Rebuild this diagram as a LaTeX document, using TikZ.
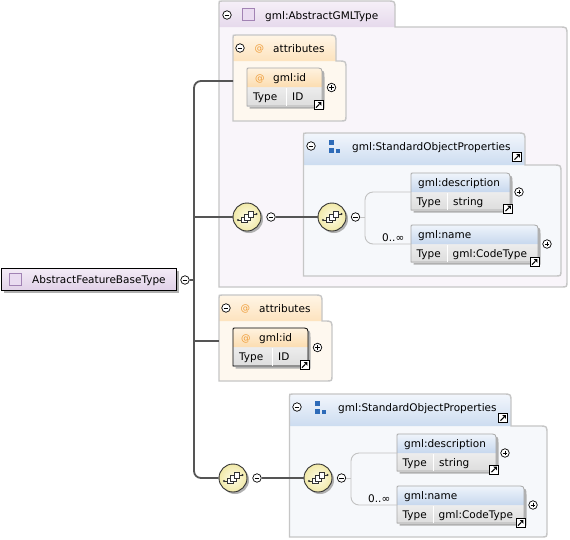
\documentclass[tikz,border=0pt]{standalone}
\usepackage{fontspec}
\setmainfont{DejaVu Sans}
\usetikzlibrary{calc}
\definecolor{panelborder}{HTML}{C6C6C6}
\definecolor{elemborder}{HTML}{A8A8A8}
\definecolor{conn}{HTML}{555555}
\definecolor{brk}{HTML}{C2C2C2}
\definecolor{purTop}{HTML}{F6F0F8}
\definecolor{purBot}{HTML}{E6D9EC}
\definecolor{purBody}{HTML}{F9F5FA}
\definecolor{rootTop}{HTML}{F3EBF6}
\definecolor{rootBot}{HTML}{E1D1E8}
\definecolor{orpTop}{HTML}{FFF5E6}
\definecolor{orpBot}{HTML}{FDE3BE}
\definecolor{orpBody}{HTML}{FEF8EF}
\definecolor{orTop}{HTML}{FEF2E0}
\definecolor{orBot}{HTML}{FCDDB0}
\definecolor{blpTop}{HTML}{F2F6FC}
\definecolor{blpBot}{HTML}{CCDCF0}
\definecolor{blpBody}{HTML}{F6F8FB}
\definecolor{blTop}{HTML}{EFF4FB}
\definecolor{blBot}{HTML}{C7D8EE}
\definecolor{rowTop}{HTML}{EDEDED}
\definecolor{rowBot}{HTML}{DDDDDD}
\definecolor{shadowgray}{HTML}{B0B0B0}
\definecolor{seqIn}{HTML}{FEFCE8}
\definecolor{seqOut}{HTML}{F1E9A8}
\definecolor{atcol}{HTML}{EE9C38}
\definecolor{iconpur}{HTML}{EADCF1}
\definecolor{iconpurdraw}{HTML}{A283B4}
\definecolor{iconblue}{HTML}{2E6BB8}
\definecolor{icondark}{HTML}{333333}
\tikzset{
  txt/.style={inner sep=0pt, anchor=base west, font=\fontsize{10.5}{12.6}\selectfont},
  attxt/.style={txt, text=atcol, font=\fontsize{9.5}{11}\selectfont},
  areabox/.style={rectangle, inner sep=0pt, draw=none, fill=none},
  panelline/.style={draw=panelborder, line width=1.4pt},
  conline/.style={draw=conn, line width=1.8pt},
  brline/.style={draw=brk, line width=0.9pt},
  togglebox/.style={circle, draw=black, fill=white, line width=0.7pt, minimum size=8.5pt, inner sep=0pt},
  linkbox/.style={rectangle, draw=black, fill=white, line width=0.9pt, minimum size=9pt, inner sep=0pt},
  seqcirc/.style={circle, draw=icondark, line width=0.9pt, inner color=seqIn, outer color=seqOut, minimum size=28pt, inner sep=0pt},
  typeicon/.style={rectangle, draw=iconpurdraw, fill=iconpur, line width=0.8pt, minimum size=12pt, inner sep=0pt},
  rootbox/.style={rectangle, draw=black, line width=0.9pt, top color=rootTop, bottom color=rootBot, minimum width=175pt, minimum height=22pt, inner sep=0pt, anchor=north west},
}
% panel: name, L, T, tab right, tab bottom, body right, body bottom, colour base
\newcommand\XPanel[8]{%
  \path[fill=#8Body] (#2,#7) -- (#2,{#3+3}) .. controls (#2,#3) .. ({#2+3},#3) -- ({#4-8},#3) .. controls (#4,#3) .. (#4,{#3+8}) -- (#4,#5) -- ({#6-8},#5) .. controls (#6,#5) .. (#6,{#5+8}) -- (#6,{#7-6}) .. controls (#6,#7) .. ({#6-6},#7) -- cycle;
  \path[top color=#8Top, bottom color=#8Bot] (#2,#5) -- (#2,{#3+3}) .. controls (#2,#3) .. ({#2+3},#3) -- ({#4-8},#3) .. controls (#4,#3) .. (#4,{#3+8}) -- (#4,#5) -- cycle;
  \path[panelline] (#2,#7) -- (#2,{#3+3}) .. controls (#2,#3) .. ({#2+3},#3) -- ({#4-8},#3) .. controls (#4,#3) .. (#4,{#3+8}) -- (#4,#5) -- ({#6-8},#5) .. controls (#6,#5) .. (#6,{#5+8}) -- (#6,{#7-6}) .. controls (#6,#7) .. ({#6-6},#7) -- cycle;
  \node[areabox, anchor=north west, minimum width={(#6-#2)*1pt}, minimum height={(#7-#3)*1pt}] (#1) at (#2,#3) {};
}
% element: name, L, T, R, header bottom, B, header colour base, border colour
\newcommand\XElem[8]{%
  \path[fill=shadowgray] ({#2+2.5},{#6+2.5}) -- ({#2+2.5},{#3+2.5}) -- ({#4-4.5},{#3+2.5}) .. controls ({#4+2.5},{#3+2.5}) .. ({#4+2.5},{#3+9.5}) -- ({#4+2.5},{#6+2.5}) -- cycle;
  \path[top color=rowTop, bottom color=rowBot] (#2,#5) rectangle (#4,#6);
  \path[top color=#7Top, bottom color=#7Bot] (#2,#5) -- (#2,{#3+2}) .. controls (#2,#3) .. ({#2+2},#3) -- ({#4-7},#3) .. controls (#4,#3) .. (#4,{#3+7}) -- (#4,#5) -- cycle;
  \path[draw=#8, line width=0.8pt] (#2,#6) -- (#2,{#3+2}) .. controls (#2,#3) .. ({#2+2},#3) -- ({#4-7},#3) .. controls (#4,#3) .. (#4,{#3+7}) -- (#4,#6) -- cycle;
  \node[areabox, anchor=north west, minimum width={(#4-#2)*1pt}, minimum height={(#6-#3)*1pt}] (#1) at (#2,#3) {};
  \coordinate (#1-hw) at (#2,#5);
}
\newcommand\XTogMinus[2]{%
  \node[togglebox] (#1) at (#2) {};
  \draw[line width=0.7pt] ($(#1.center)+(-2.4,0)$) -- ($(#1.center)+(2.4,0)$);
}
\newcommand\XTogPlus[2]{%
  \node[togglebox] (#1) at (#2) {};
  \draw[line width=0.7pt] ($(#1.center)+(-2.4,0)$) -- ($(#1.center)+(2.4,0)$);
  \draw[line width=0.7pt] ($(#1.center)+(0,-2.4)$) -- ($(#1.center)+(0,2.4)$);
}
\newcommand\XLink[2]{%
  \node[linkbox, anchor=south east] (#1) at (#2) {};
  \draw[line width=1.1pt] ($(#1.center)+(-2.6,2.6)$) -- ($(#1.center)+(0.8,-0.8)$);
  \fill ($(#1.center)+(2.9,-2.9)$) -- ($(#1.center)+(-0.7,-2.9)$) -- ($(#1.center)+(2.9,0.7)$) -- cycle;
}
\newcommand\XSeqIcon[1]{%
  \draw[icondark, line width=0.7pt] ($(#1)+(-9,3)$) -- ($(#1)+(-5.5,3)$);
  \fill[icondark] ($(#1)+(-9,3)$) circle[radius=1.2];
  \draw[icondark, line width=0.7pt] ($(#1)+(6.5,-3)$) -- ($(#1)+(9.5,-3)$);
  \fill[icondark] ($(#1)+(9.5,-3)$) circle[radius=1.2];
  \filldraw[fill=white, draw=icondark, line width=0.6pt] ($(#1)+(-5.5,0)$) rectangle ($(#1)+(0,5.5)$);
  \filldraw[fill=white, draw=icondark, line width=0.6pt] ($(#1)+(-2.5,-2.5)$) rectangle ($(#1)+(3,3)$);
  \filldraw[fill=white, draw=icondark, line width=0.6pt] ($(#1)+(1,-5.5)$) rectangle ($(#1)+(6.5,0)$);
}
% attributes block (coordinates of the upper one)
\newcommand\XAttrBlock[1]{%
  \XPanel{attr}{233}{35}{336}{61}{346}{121}{orp}
  \XTogMinus{attrtog}{240,48}
  \node[attxt] (attrat) at (254.5,51.5) {@};
  \node[txt] (attrlbl) at (273,52) {attributes};
  \XElem{gmlid}{247}{68}{322}{87}{106}{or}{#1}
  \draw[white, line width=0.8pt] (286,87.5) -- (286,105.5);
  \node[attxt] (gmlidat) at (255,81) {@};
  \node[txt] (gmlidlbl) at (273,81.5) {gml:id};
  \node[txt] (gmlidtype) at (253,100.5) {Type};
  \node[txt] (gmlidval) at (292,100.5) {ID};
  \XTogPlus{gmlidplus}{331.5,87.5}
  \XLink{gmlidlink}{323.5,110}
  \coordinate (w) at (233,81);
}
% sequence + group block (coordinates of the upper one)
\newcommand\XSeqBlock{%
  \fill[shadowgray] (249,219) circle[radius=14];
  \node[seqcirc] (seq1) at (247,217) {};
  \XSeqIcon{seq1}
  \XTogMinus{seq1tog}{271,217}
  \XPanel{sop}{303.5}{133}{525}{165}{561}{276}{blp}
  \XTogMinus{soptog}{311,146}
  \fill[iconblue] (328.5,140) rectangle (333.5,145);
  \fill[iconblue] (328.5,148) rectangle (333.5,153);
  \fill[iconblue] (335.5,148.5) rectangle (340,153);
  \node[txt] (soplbl) at (352,150) {gml:StandardObjectProperties};
  \XLink{soplink}{522,162}
  \fill[shadowgray] (334,219) circle[radius=14];
  \node[seqcirc] (seq2) at (332,217) {};
  \XSeqIcon{seq2}
  \XTogMinus{seq2tog}{355.5,217}
  \coordinate (brk) at (365,217);
  \draw[conline] (seq1tog.east) -- (seq2.west);
  \draw[brline] (seq2tog.east) -- (brk);
  \XElem{desc}{411}{173}{510}{192}{210}{bl}{elemborder}
  \draw[white, line width=0.8pt] (447.5,192.5) -- (447.5,209.5);
  \node[txt] (desclbl) at (418,186.5) {gml:description};
  \node[txt] (desctype) at (416.5,205) {Type};
  \node[txt] (descval) at (453,205) {string};
  \XTogPlus{descplus}{519,192}
  \XLink{desclink}{513,213.5}
  \XElem{name}{411}{225}{538}{244}{262}{bl}{elemborder}
  \draw[white, line width=0.8pt] (447.5,244.5) -- (447.5,261.5);
  \node[txt] (namelbl) at (418,238.5) {gml:name};
  \node[txt] (nametype) at (416.5,257) {Type};
  \node[txt] (nameval) at (452.5,257) {gml:CodeType};
  \XTogPlus{nameplus}{547,244}
  \XLink{namelink}{539.5,267}
  \draw[brline, rounded corners=8pt] (desc-hw) -- (desc-hw -| brk) -- (name-hw -| brk) -- (name-hw);
  \node[txt, anchor=base east] (mult) at (404.5,241.5) {0..∞};
}
\begin{document}
\begin{tikzpicture}[x=1pt,y=-1pt]
\useasboundingbox (0,0) rectangle (570,539);
\fill[white] (0,0) rectangle (570,539);
% base type panel
\XPanel{agml}{219}{1}{395}{27}{567}{287}{pur}
\XTogMinus{agmltog}{227,15}
\node[typeicon] (agmlicon) at (248.5,14.5) {};
\node[txt] (agmllbl) at (265,19) {gml:AbstractGMLType};
\begin{scope}[name prefix=top-]
  \XAttrBlock{elemborder}
  \XSeqBlock
\end{scope}
\begin{scope}[shift={(-14,260)}, name prefix=bot-]
  \XAttrBlock{black}
\end{scope}
\begin{scope}[shift={(-14,261)}, name prefix=bot-]
  \XSeqBlock
\end{scope}
% root
\fill[shadowgray] (3.5,270.5) rectangle (178.5,292.5);
\node[rootbox] (root) at (1,268) {};
\node[typeicon] (rooticon) at (15.5,279) {};
\node[txt] (rootlbl) at (32,283) {AbstractFeatureBaseType};
\XTogMinus{roottog}{185,280}
% trunk
\coordinate (trunktop) at (194,81);
\coordinate (trunkbot) at (194,478);
\draw[conline, rounded corners=7pt] (top-w) -- (trunktop) -- (trunkbot) -- (bot-seq1.west);
\draw[conline] (roottog.east) -- (roottog.east -| trunktop);
\draw[conline] (top-seq1.west -| trunktop) -- (top-seq1.west);
\draw[conline] (bot-w -| trunktop) -- (bot-w);
\end{tikzpicture}
\end{document}
